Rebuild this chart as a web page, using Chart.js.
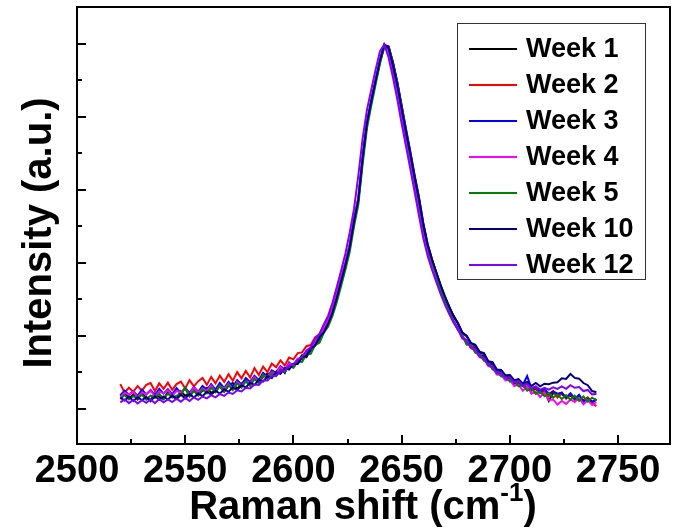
<!DOCTYPE html>
<html>
<head>
<meta charset="utf-8">
<script src="https://cdn.jsdelivr.net/npm/chart.js@4/dist/chart.umd.min.js"></script>
<style>
html,body{margin:0;padding:0;background:#fff;}
#wrap{width:675px;height:528px;}
</style>
</head>
<body>
<div id="wrap"><canvas id="c" width="675" height="528"></canvas></div>
<script>
// ---- data ----
const ramanShift = [2520,2522,2524,2526,2528,2530,2532,2534,2536,2538,2540,2542,2544,2546,2548,2550,2552,2554,2556,2558,2560,2562,2564,2566,2568,2570,2572,2574,2576,2578,2580,2582,2584,2586,2588,2590,2592,2594,2596,2598,2600,2602,2604,2606,2608,2610,2612,2614,2616,2618,2620,2622,2624,2626,2628,2630,2632,2634,2636,2638,2640,2642,2644,2646,2648,2650,2652,2654,2656,2658,2660,2662,2664,2666,2668,2670,2672,2674,2676,2678,2680,2682,2684,2686,2688,2690,2692,2694,2696,2698,2700,2702,2704,2706,2708,2710,2712,2714,2716,2718,2720,2722,2724,2726,2728,2730,2732,2734,2736,2738,2740];

const week1 = [.036,.045,.028,.040,.026,.043,.031,.024,.042,.033,.027,.046,.034,.029,.048,.036,.044,.052,.037,.050,.058,.044,.051,.062,.047,.064,.071,.055,.069,.077,.064,.085,.073,.088,.097,.086,.102,.113,.099,.127,.114,.132,.147,.142,.165,.180,.183,.218,
  .231,.262,.300,.344,.392,.440,.508,.570,.683,.780,.842,.896,.951,.993,.990,.948,.892,.826,.758,.695,.628,.568,.498,.444,.398,.366,.327,.295,.268,.241,
  .222,.198,.186,.172,.167,.148,.145,.122,.124,.098,.099,.081,.085,.069,.071,.062,.060,.050,.055,.045,.049,.022,.044,.038,.041,.030,.037,.026,.036,.023,.031,.020,.025];

const week2 = [.068,.045,.058,.047,.063,.050,.066,.071,.049,.070,.055,.072,.052,.068,.075,.056,.079,.062,.076,.085,.066,.088,.070,.091,.074,.095,.077,.101,.084,.104,.086,.112,.093,.116,.101,.124,.114,.133,.119,.141,.136,.153,.155,.172,.175,.196,.205,.229,
  .248,.275,.316,.358,.401,.452,.520,.578,.690,.784,.846,.902,.952,.996,.993,.947,.893,.830,.765,.702,.638,.580,.507,.452,.410,.372,.338,.305,.280,.252,
  .236,.207,.199,.180,.172,.156,.150,.131,.124,.107,.104,.090,.091,.078,.077,.066,.068,.053,.058,.044,.052,.035,.049,.031,.044,.028,.041,.025,.037,.021,.031,.015,.008];

const week3 = [.038,.050,.039,.049,.036,.053,.040,.052,.038,.055,.042,.054,.040,.057,.043,.058,.044,.060,.047,.063,.052,.068,.053,.071,.057,.074,.061,.079,.067,.085,.074,.091,.079,.099,.088,.106,.099,.117,.108,.125,.121,.136,.137,.155,.158,.182,.192,.217,
  .237,.268,.307,.352,.397,.446,.515,.574,.688,.782,.843,.899,.952,.997,.992,.950,.896,.832,.768,.706,.640,.580,.510,.452,.410,.374,.338,.306,.279,.255,
  .234,.208,.200,.179,.175,.154,.152,.129,.126,.105,.104,.089,.092,.077,.080,.066,.090,.056,.061,.047,.055,.041,.048,.042,.045,.031,.043,.028,.039,.020,.026,.017,.027];

const week4 = [.033,.044,.039,.048,.031,.045,.040,.050,.034,.047,.043,.051,.036,.049,.045,.054,.040,.058,.046,.055,.050,.064,.047,.063,.055,.069,.054,.074,.064,.076,.070,.087,.073,.091,.088,.100,.097,.115,.104,.125,.120,.138,.139,.158,.164,.186,.199,.222,
  .242,.272,.312,.355,.400,.450,.520,.580,.695,.790,.848,.903,.958,.999,.980,.925,.868,.802,.738,.678,.612,.552,.485,.430,.392,.358,.323,.293,.264,.240,
  .220,.193,.186,.166,.160,.142,.137,.118,.113,.094,.093,.078,.080,.063,.067,.050,.062,.042,.047,.033,.045,.024,.026,.012,.022,.014,.026,.019,.030,.013,.024,.011,.019];

const week5 = [.027,.038,.026,.035,.029,.039,.025,.037,.030,.041,.028,.042,.031,.036,.040,.058,.034,.049,.038,.053,.043,.058,.046,.063,.048,.066,.052,.070,.058,.076,.064,.082,.071,.094,.082,.097,.090,.107,.101,.118,.113,.130,.129,.149,.151,.175,.181,.208,
  .225,.254,.292,.336,.381,.430,.500,.560,.672,.770,.832,.890,.946,.992,.988,.944,.888,.824,.758,.696,.632,.570,.500,.446,.402,.368,.325,.296,.267,.240,
  .216,.203,.176,.176,.154,.150,.132,.128,.108,.104,.089,.090,.075,.078,.062,.066,.050,.057,.041,.048,.035,.044,.031,.040,.027,.038,.025,.036,.022,.034,.020,.031,.024];

const week10 = [.031,.023,.034,.022,.032,.024,.033,.021,.035,.025,.034,.026,.037,.027,.039,.029,.041,.031,.043,.035,.047,.039,.050,.042,.054,.047,.059,.052,.065,.059,.072,.066,.080,.075,.090,.085,.100,.096,.112,.108,.124,.123,.142,.145,.167,.173,.198,.209,
  .234,.264,.304,.349,.394,.444,.514,.574,.689,.785,.845,.900,.955,.998,.988,.940,.886,.822,.758,.698,.634,.574,.505,.450,.410,.375,.340,.309,.280,.255,
  .235,.210,.201,.181,.176,.157,.153,.131,.128,.108,.107,.092,.093,.079,.082,.069,.074,.063,.071,.062,.069,.068,.072,.073,.084,.082,.096,.085,.083,.071,.065,.049,.046];

const week12 = [.018,.026,.016,.025,.015,.024,.017,.026,.016,.027,.018,.026,.019,.028,.020,.030,.022,.032,.025,.034,.029,.038,.032,.041,.036,.045,.041,.051,.048,.058,.056,.067,.066,.078,.078,.090,.091,.104,.105,.118,.121,.135,.142,.160,.169,.192,.204,.231,
  .255,.290,.333,.378,.425,.483,.548,.640,.742,.820,.875,.930,.980,.998,.962,.908,.848,.782,.720,.658,.595,.530,.468,.420,.382,.348,.315,.286,.260,.236,
  .218,.195,.188,.168,.164,.144,.140,.120,.116,.098,.099,.084,.086,.073,.076,.064,.068,.057,.062,.053,.058,.053,.059,.055,.062,.055,.065,.058,.060,.049,.052,.040,.041];

const seriesNames = ['Week 1','Week 2','Week 3','Week 4','Week 5','Week 10','Week 12'];
const seriesValues = [week1, week2, week3, week4, week5, week10, week12];

const xMajorTicks = [2500,2550,2600,2650,2700,2750];
const xMinorTicks = [2525,2575,2625,2675,2725];
const yMajorTicks = [0,0.2,0.4,0.6,0.8,1.0];
const yMinorTicks = [0.1,0.3,0.5,0.7,0.9];

const xTitle = 'Raman shift (cm';
const xTitleSup = '-1';
const xTitleEnd = ')';
const yTitle = 'Intensity (a.u.)';

// ---- styles ----
const seriesColors = ['#000000','#ff0000','#0000ff','#ff00ff','#008000','#000080','#8000ff'];
const FONT = '"Liberation Sans", Arial, Helvetica, sans-serif';

const datasets = seriesNames.map((name, i) => ({
  label: name,
  data: ramanShift.map((x, j) => ({x: x, y: seriesValues[i][j]})),
  borderColor: seriesColors[i],
  backgroundColor: seriesColors[i],
  borderWidth: 2,
  pointRadius: 0,
  tension: 0,
  fill: false,
  order: seriesNames.length - 1 - i
}));

const framePlugin = {
  id: 'framePlugin',
  afterDraw(chart) {
    const ctx = chart.ctx;
    const a = chart.chartArea;
    const xs = chart.scales.x, ys = chart.scales.y;
    ctx.save();
    ctx.strokeStyle = '#000';
    ctx.lineWidth = 2;
    ctx.strokeRect(a.left, a.top, a.right - a.left, a.bottom - a.top);
    ctx.beginPath();
    xMajorTicks.forEach(v => { const p = Math.round(xs.getPixelForValue(v)); ctx.moveTo(p, a.bottom); ctx.lineTo(p, a.bottom - 9); });
    xMinorTicks.forEach(v => { const p = Math.round(xs.getPixelForValue(v)); ctx.moveTo(p, a.bottom); ctx.lineTo(p, a.bottom - 5); });
    yMajorTicks.forEach(v => { const p = Math.round(ys.getPixelForValue(v)); ctx.moveTo(a.left, p); ctx.lineTo(a.left + 9, p); });
    yMinorTicks.forEach(v => { const p = Math.round(ys.getPixelForValue(v)); ctx.moveTo(a.left, p); ctx.lineTo(a.left + 5, p); });
    ctx.stroke();

    // x title with superscript
    ctx.fillStyle = '#000';
    ctx.textBaseline = 'alphabetic';
    ctx.textAlign = 'left';
    const mainFont = 'bold 40px ' + FONT;
    const supFont = 'bold 26px ' + FONT;
    ctx.font = mainFont; const w1 = ctx.measureText(xTitle).width; const w3 = ctx.measureText(xTitleEnd).width;
    ctx.font = supFont; const w2 = ctx.measureText(xTitleSup).width;
    const total = w1 + w2 + w3;
    let sx = 363 - total / 2;
    const by = 519;
    ctx.font = mainFont; ctx.fillText(xTitle, sx, by); sx += w1;
    ctx.font = supFont; ctx.fillText(xTitleSup, sx, by - 18); sx += w2;
    ctx.font = mainFont; ctx.fillText(xTitleEnd, sx, by);

    // y title
    ctx.save();
    ctx.translate(51, 233);
    ctx.rotate(-Math.PI / 2);
    ctx.textAlign = 'center';
    ctx.font = mainFont;
    ctx.fillText(yTitle, 0, 0);
    ctx.restore();

    // legend
    const lx = 457, ly = 23, lw = 188, lh = 256;
    ctx.fillStyle = '#fff';
    ctx.fillRect(lx, ly, lw, lh);
    ctx.strokeStyle = '#333';
    ctx.lineWidth = 1;
    ctx.strokeRect(lx + 0.5, ly + 0.5, lw, lh);
    ctx.font = 'bold 27px ' + FONT;
    ctx.textAlign = 'left';
    ctx.textBaseline = 'alphabetic';
    seriesNames.forEach((name, i) => {
      const cy = 49 + 36 * i;
      ctx.strokeStyle = seriesColors[i];
      ctx.lineWidth = 2;
      ctx.beginPath(); ctx.moveTo(469, cy); ctx.lineTo(517, cy); ctx.stroke();
      ctx.fillStyle = '#000';
      ctx.fillText(name, 526, cy + 8);
    });
    ctx.restore();
  }
};

new Chart(document.getElementById('c'), {
  type: 'line',
  data: { datasets: datasets },
  options: {
    responsive: false,
    animation: false,
    devicePixelRatio: 1,
    layout: { padding: { top: 7, right: 5, left: 0, bottom: 0 } },
    plugins: { legend: { display: false }, tooltip: { enabled: false }, title: { display: false } },
    scales: {
      x: {
        type: 'linear',
        min: 2500, max: 2774,
        afterBuildTicks(s) { s.ticks = xMajorTicks.map(v => ({ value: v })); },
        ticks: {
          includeBounds: false,
          autoSkip: false,
          maxRotation: 0,
          padding: 5,
          color: '#000',
          font: { family: FONT, size: 38, weight: 'bold', lineHeight: 1.2 },
          callback: (v) => String(v)
        },
        grid: { display: false, drawTicks: false },
        border: { display: false },
        afterFit(s) { s.height = 84; }
      },
      y: {
        type: 'linear',
        min: -0.096, max: 1.101,
        ticks: { display: false },
        grid: { display: false, drawTicks: false },
        border: { display: false },
        afterFit(s) { s.width = 77; }
      }
    }
  },
  plugins: [framePlugin]
});
</script>
</body>
</html>
